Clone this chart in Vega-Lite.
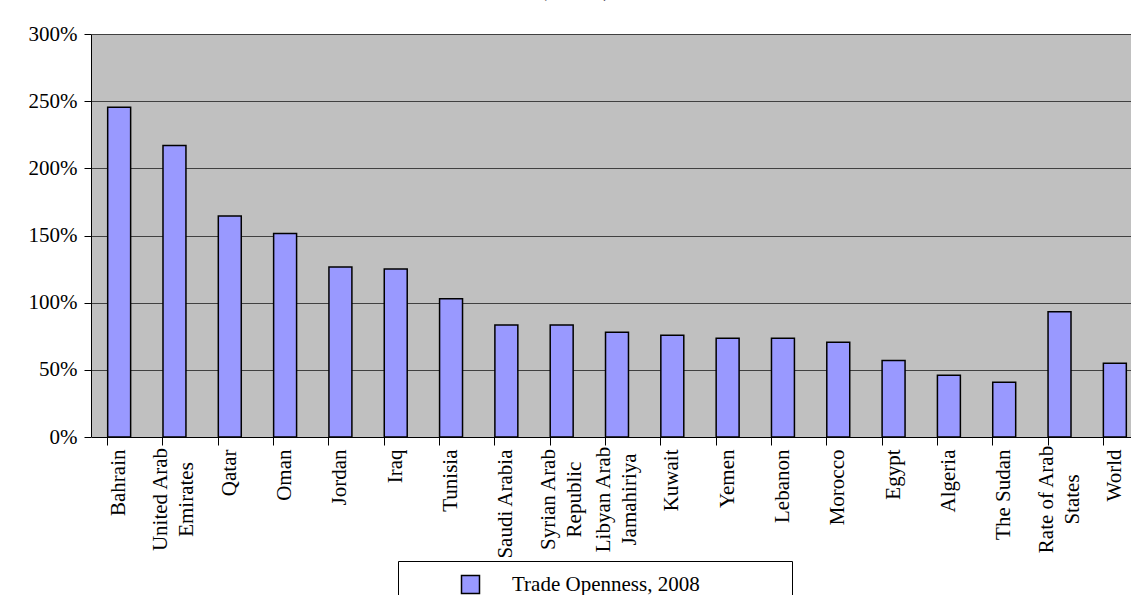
{
  "$schema": "https://vega.github.io/schema/vega-lite/v6.json",
  "autosize": "none",
  "width": 1040,
  "height": 403,
  "padding": {"left": 91, "top": 34, "right": 0, "bottom": 158},
  "background": "white",
  "title": {
    "text": "(2008)",
    "font": "Liberation Serif",
    "fontSize": 28,
    "fontWeight": "normal",
    "color": "black",
    "anchor": "middle",
    "frame": "group",
    "baseline": "alphabetic",
    "offset": 25,
    "dy": 25,
    "dx": -36
  },
  "data": {
    "values": [
      {"country": "Bahrain", "value": 2.455},
      {"country": "United Arab\nEmirates", "value": 2.17},
      {"country": "Qatar", "value": 1.645},
      {"country": "Oman", "value": 1.515},
      {"country": "Jordan", "value": 1.265},
      {"country": "Iraq", "value": 1.25},
      {"country": "Tunisia", "value": 1.03},
      {"country": "Saudi Arabia", "value": 0.834},
      {"country": "Syrian Arab\nRepublic", "value": 0.834},
      {"country": "Libyan Arab\nJamahiriya", "value": 0.78},
      {"country": "Kuwait", "value": 0.757},
      {"country": "Yemen", "value": 0.735},
      {"country": "Lebanon", "value": 0.735},
      {"country": "Morocco", "value": 0.705},
      {"country": "Egypt", "value": 0.57},
      {"country": "Algeria", "value": 0.46},
      {"country": "The Sudan", "value": 0.407},
      {"country": "Rate of Arab\nStates", "value": 0.933},
      {"country": "World", "value": 0.549}
    ]
  },
  "mark": {"type": "bar", "stroke": "black", "strokeWidth": 1.5},
  "encoding": {
    "x": {
      "field": "country",
      "type": "nominal",
      "sort": null,
      "scale": {"range": [0.5, 1051.5], "paddingInner": 0.585, "paddingOuter": 0.2925},
      "axis": {
        "title": null,
        "bandPosition": 0,
        "domainColor": "black",
        "domainWidth": 1,
        "tickColor": "black",
        "tickSize": 8,
        "tickWidth": 1,
        "labelAngle": -90,
        "labelPadding": {"condition": {"test": "indexof(datum.value, '\\n') >= 0", "value": 54}, "value": 4},
        "labelAlign": {"condition": {"test": "indexof(datum.value, '\\n') >= 0", "value": "center"}, "value": "right"},
        "labelOffset": {"condition": {"test": "indexof(datum.value, '\\n') >= 0", "value": -13}, "value": 0},
        "labelFont": "Liberation Serif",
        "labelFontSize": 21,
        "labelColor": "black",
        "labelLineHeight": 26,
        "labelLimit": 400,
        "labelOverlap": false,
        "labelBound": false,
        "labelExpr": "split(datum.label, '\\n')",
        "grid": false
      }
    },
    "y": {
      "field": "value",
      "type": "quantitative",
      "scale": {"domain": [0, 3], "nice": false, "zero": true},
      "axis": {
        "title": null,
        "format": ".0%",
        "values": [0, 0.5, 1, 1.5, 2, 2.5, 3],
        "domainColor": "black",
        "domainWidth": 1,
        "tickColor": "black",
        "tickSize": 7,
        "tickWidth": 1,
        "labelPadding": 7,
        "labelFont": "Liberation Serif",
        "labelFontSize": 21,
        "labelColor": "black",
        "grid": true,
        "gridColor": "#404040",
        "gridWidth": 1,
        "gridOpacity": 1
      }
    },
    "color": {
      "datum": "Trade Openness, 2008",
      "type": "nominal",
      "scale": {"range": ["#9999FF"]},
      "legend": {
        "orient": "none",
        "legendX": 307,
        "legendY": 527,
        "title": "\u00a0",
        "titleOrient": "right",
        "titlePadding": 79,
        "titleFontSize": 21,
        "strokeColor": "black",
        "fillColor": "white",
        "padding": 13,
        "symbolType": "square",
        "symbolSize": 324,
        "symbolStrokeColor": "black",
        "symbolStrokeWidth": 1.5,
        "symbolOffset": 49,
        "labelOffset": 31,
        "labelFont": "Liberation Serif",
        "labelFontSize": 21,
        "labelColor": "black",
        "labelLimit": 500
      }
    }
  },
  "config": {
    "view": {"fill": "#C0C0C0", "stroke": null}
  }
}
